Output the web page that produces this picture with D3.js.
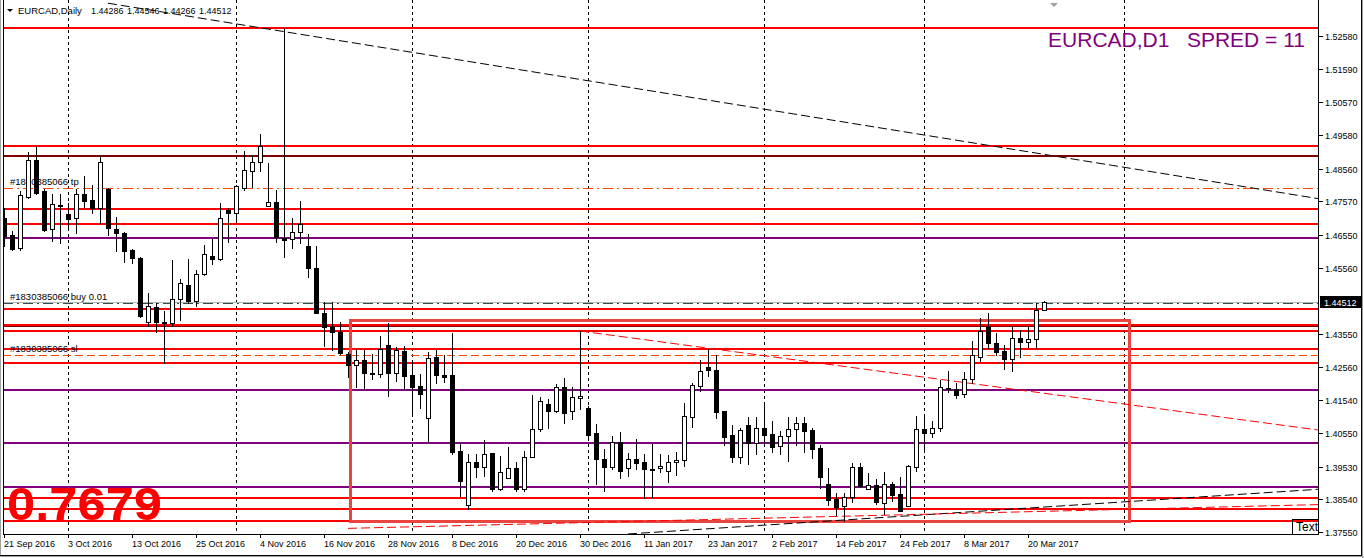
<!DOCTYPE html>
<html>
<head>
<meta charset="utf-8">
<script src="https://cdn.jsdelivr.net/npm/d3@7"></script>
<style>
  body { margin: 0; background: #fff; }
  svg { display: block; font-family: "Liberation Sans", Arial, sans-serif; }
</style>
</head>
<body>
<div id="chart"></div>
<script>
// # DATA
// # ------------------------------
// # ------------------------------
var candle_open = [1.47065,1.46549,1.46156,1.47701,1.48822,1.47883,1.46731,1.47458,1.47186,1.47065,
  1.47792,1.47610,1.47368,1.47943,1.46731,1.46610,1.46095,1.45853,1.43913,1.44368,
  1.43913,1.43883,1.44610,1.45034,1.44549,1.45368,1.45913,1.45822,1.47307,1.47216,
  1.47974,1.48489,1.48761,1.47428,1.47549,1.46458,1.46428,1.46640,1.46216,1.45550,
  1.44186,1.43762,1.43610,1.42944,1.42610,1.42762,1.42368,1.42338,1.43216,1.42368,
  1.43035,1.42307,1.41974,1.41005,1.42853,1.42307,1.42307,1.40005,1.38368,1.39671,
  1.39520,1.39944,1.38853,1.39186,1.39489,1.38853,1.39823,1.40671,1.41429,1.41217,
  1.41944,1.41217,1.41611,1.41308,1.40550,1.39762,1.39520,1.40277,1.39489,1.39762,
  1.39671,1.39459,1.39489,1.39398,1.39671,1.39732,1.41035,1.41974,1.42550,1.42459,
  1.41217,1.40489,1.39823,1.40792,1.40247,1.40702,1.40520,1.40156,1.40459,1.40671,
  1.40853,1.40641,1.40096,1.39005,1.38550,1.38338,1.38611,1.39520,1.38853,1.38974,
  1.38429,1.39005,1.38702,1.38338,1.39520,1.40671,1.40550,1.40702,1.41914,1.41883,
  1.41732,1.42186,1.42853,1.43762,1.43277,1.43035,1.42792,1.43429,1.43307,1.43398,
  1.44286];
var candle_high = [1.47368,1.46671,1.47883,1.49064,1.49246,1.47943,1.47792,1.47792,1.47519,1.47943,
  1.48337,1.48064,1.48973,1.47974,1.47095,1.46640,1.46125,1.45883,1.44792,1.44489,
  1.44246,1.45792,1.45216,1.45822,1.45489,1.46246,1.46428,1.47519,1.47368,1.48064,
  1.49095,1.48973,1.49610,1.48731,1.47913,1.52822,1.47065,1.47580,1.46580,1.46216,
  1.44519,1.44519,1.43913,1.43004,1.43095,1.43065,1.42944,1.43489,1.43883,1.43156,
  1.43186,1.42732,1.42338,1.43004,1.43065,1.42913,1.43580,1.40247,1.39914,1.39914,
  1.40338,1.39944,1.39853,1.40126,1.39671,1.40005,1.41701,1.41641,1.41580,1.42035,
  1.42217,1.41944,1.43641,1.41368,1.40823,1.40065,1.40459,1.40580,1.39944,1.40368,
  1.39914,1.40217,1.39914,1.39883,1.39974,1.41459,1.42065,1.42762,1.43095,1.42913,
  1.41217,1.40792,1.40702,1.41035,1.41035,1.41398,1.40914,1.40611,1.41035,1.41035,
  1.41035,1.40702,1.40186,1.39489,1.38732,1.38732,1.39641,1.39641,1.39338,1.39156,
  1.39368,1.39065,1.39217,1.39580,1.41065,1.41096,1.40914,1.42156,1.42429,1.42065,
  1.42398,1.43338,1.44035,1.44186,1.43580,1.43216,1.43792,1.43671,1.43792,1.44489,
  1.44546];
var candle_low = [1.46216,1.46095,1.46095,1.47671,1.47792,1.46671,1.46368,1.46307,1.46792,1.46610,
  1.47398,1.47216,1.46913,1.46549,1.46065,1.45731,1.45701,1.44065,1.43792,1.43610,
  1.42671,1.43792,1.43974,1.44489,1.44398,1.45337,1.45671,1.45792,1.46337,1.46943,
  1.47913,1.48004,1.48489,1.47428,1.46337,1.45883,1.46156,1.46307,1.45277,1.44186,
  1.43186,1.43065,1.42944,1.42247,1.41944,1.41883,1.42186,1.42247,1.41671,1.42126,
  1.41883,1.41156,1.41308,1.40277,1.42065,1.42095,1.39914,1.38641,1.38247,1.39217,
  1.39247,1.38792,1.38823,1.39186,1.38792,1.38792,1.39823,1.40611,1.40702,1.41186,
  1.40853,1.40974,1.41277,1.40429,1.39005,1.38792,1.39459,1.39186,1.39247,1.39459,
  1.38580,1.38611,1.39368,1.39065,1.39277,1.39550,1.40732,1.41823,1.42277,1.41005,
  1.40186,1.39671,1.39641,1.39611,1.39914,1.40247,1.39974,1.39914,1.39702,1.40186,
  1.39974,1.39792,1.38884,1.38368,1.38065,1.37884,1.38459,1.38914,1.38853,1.38399,
  1.38096,1.38490,1.38187,1.38338,1.39398,1.40005,1.40429,1.40611,1.41792,1.41611,
  1.41641,1.42065,1.42732,1.43126,1.42913,1.42489,1.42429,1.42853,1.43156,1.43126,
  1.44266];
var candle_close = [1.46519,1.46125,1.47761,1.48822,1.47822,1.46701,1.47489,1.47428,1.47034,1.47792,
  1.47580,1.47368,1.48761,1.46762,1.46610,1.46065,1.45853,1.44095,1.44398,1.43913,
  1.43883,1.44610,1.45095,1.44549,1.45368,1.45974,1.45822,1.47065,1.47216,1.48034,
  1.48519,1.48761,1.49246,1.47549,1.46489,1.46398,1.46640,1.46883,1.45550,1.44186,
  1.43762,1.43610,1.42974,1.42610,1.42762,1.42368,1.42338,1.43095,1.42368,1.43065,
  1.42277,1.41944,1.41732,1.42823,1.42307,1.42247,1.39974,1.39096,1.39671,1.39520,
  1.39914,1.38853,1.39368,1.39489,1.38853,1.39823,1.40671,1.41520,1.41217,1.41944,
  1.41156,1.41641,1.41671,1.40489,1.39762,1.39520,1.40277,1.39398,1.39762,1.39641,
  1.39459,1.39429,1.39550,1.39671,1.39732,1.41065,1.42005,1.42429,1.42459,1.41186,
  1.40429,1.39823,1.40641,1.40247,1.40702,1.40489,1.40126,1.40459,1.40671,1.40853,
  1.40611,1.40065,1.39217,1.38520,1.38308,1.38611,1.39520,1.38944,1.38974,1.38459,
  1.39005,1.38671,1.38187,1.39550,1.40671,1.40550,1.40702,1.41944,1.41883,1.41701,
  1.42186,1.42913,1.43641,1.43277,1.43004,1.42792,1.43429,1.43307,1.43398,1.44286,
  1.44512];

var date_labels = ["21 Sep 2016","3 Oct 2016","13 Oct 2016","25 Oct 2016","4 Nov 2016",
  "16 Nov 2016","28 Nov 2016","8 Dec 2016","20 Dec 2016","30 Dec 2016","11 Jan 2017",
  "23 Jan 2017","2 Feb 2017","14 Feb 2017","24 Feb 2017","8 Mar 2017","20 Mar 2017"];
var date_label_bars = [0,8,16,24,32,40,48,56,64,72,80,88,96,104,112,120,128];
var grid_bars      = [8, 29, 51, 73, 95, 115, 140];
var price_ticks    = [1.52580,1.51590,1.50570,1.49580,1.48560,1.47570,1.46550,1.45560,
                      1.43550,1.42560,1.41540,1.40550,1.39530,1.38540,1.37550];

var red_levels     = [1.52822,1.49256,1.47338,1.46868,1.44316,1.43822,1.43649,1.43095,
                      1.42681,1.38587,1.38247,1.37883];
var maroon_levels  = [1.48953,1.43790];
var purple_levels  = [1.46468,1.41853,1.40256,1.38923];

var order_tp       = 1.47989;
var order_sl       = 1.42905;
var order_buy      = 1.44480;
var bid_price      = 1.44512;
var header_values  = ["1.44286","1.44546","1.44266","1.44512"];

var box_bars       = [43.4, 140.8];
var box_prices     = [1.43937, 1.37853];

var trend_black_top = [[13, 1.53574], [164.25, 1.47653]];
var trend_red_top   = [[72, 1.43641], [164.25, 1.40641]];
var trend_black_low = [[78, 1.37490], [164.25, 1.38844]];
var trend_red_low   = [[43, 1.37660], [164.25, 1.38380]];

// # SETUP
// # ------------------------------
// # ------------------------------
var width = 1364, height = 558;
var plot = {left: 3, right: 1318, top: 0, bottom: 534};

var x = d3.scaleLinear().domain([0, 164.25]).range([4, 1318]);
var y = d3.scaleLinear().domain([1.37550, 1.52580]).range([532, 36]);
var px = function(i) { return Math.round(x(i)) };
var py = function(p) { return Math.round(y(p)) };

var svg = d3.select("#chart").append("svg")
    .attr("width", width)
    .attr("height", height);

svg.append("rect").attr("width", width).attr("height", height).attr("fill", "#fff");

svg.append("defs").append("clipPath").attr("id", "plot_clip")
  .append("rect")
    .attr("x", plot.left + 1)
    .attr("y", plot.top)
    .attr("width", plot.right - plot.left - 1)
    .attr("height", plot.bottom - plot.top);

var g = svg.append("g").attr("clip-path", "url(#plot_clip)");

// ## grid (month starts)
// # ------------------------------
g.selectAll(".grid")
  .data(grid_bars).enter()
  .append("line")
    .attr("x1", function(d) { return px(d) + 0.5 })
    .attr("x2", function(d) { return px(d) + 0.5 })
    .attr("y1", plot.top)
    .attr("y2", plot.bottom)
    .attr("stroke", "#000")
    .attr("stroke-dasharray", "3,3")
    .attr("shape-rendering", "crispEdges");

// ## horizontal levels
// # ------------------------------
var draw_levels = function(levels, color, w) {
  g.selectAll(null)
    .data(levels).enter()
    .append("line")
      .attr("x1", plot.left)
      .attr("x2", plot.right)
      .attr("y1", function(d) { return py(d) })
      .attr("y2", function(d) { return py(d) })
      .attr("stroke", color)
      .attr("stroke-width", w)
      .attr("shape-rendering", "crispEdges");
}
draw_levels(purple_levels, "#800080", 2);
draw_levels(maroon_levels, "#800000", 2);
draw_levels(red_levels, "#ff0000", 2);

// ## order lines
// # ------------------------------
var order_line = function(price, color, dash) {
  g.append("line")
    .attr("x1", plot.left).attr("x2", plot.right)
    .attr("y1", py(price) + 0.5).attr("y2", py(price) + 0.5)
    .attr("stroke", color)
    .attr("stroke-dasharray", dash)
    .attr("shape-rendering", "crispEdges");
}
order_line(bid_price, "#b4b4b4", null);
order_line(order_buy, "#2f4f4f", "10,4,2,4");
order_line(order_tp, "#ff4500", "10,4,2,4");
order_line(order_sl, "#ff4500", "8,4");

var order_text = [["#1830385066 tp", order_tp], ["#1830385066 buy 0.01", order_buy], ["#1830385066 sl", order_sl]];
g.selectAll(".order_label")
  .data(order_text).enter()
  .append("text")
    .attr("x", 10)
    .attr("y", function(d) { return py(d[1]) - 3 })
    .style("font-size", "9.5px")
    .attr("fill", "#000")
    .text(function(d) { return d[0] });

// ## rectangle
// # ------------------------------
g.append("rect")
  .attr("x", px(box_bars[0]) - 0.5)
  .attr("y", py(box_prices[0]) - 0.5)
  .attr("width", px(box_bars[1]) - px(box_bars[0]))
  .attr("height", py(box_prices[1]) - py(box_prices[0]))
  .attr("fill", "none")
  .attr("stroke", "#e84440")
  .attr("stroke-width", 3)
  .attr("shape-rendering", "crispEdges");

// ## trend lines
// # ------------------------------
var trend = function(pts, color, dash) {
  g.append("line")
    .attr("x1", x(pts[0][0])).attr("y1", y(pts[0][1]))
    .attr("x2", x(pts[1][0])).attr("y2", y(pts[1][1]))
    .attr("stroke", color)
    .attr("stroke-width", 1)
    .attr("stroke-dasharray", dash);
}
trend(trend_black_top, "#000", "9,4");
trend(trend_red_top, "#ff0000", "9,4");
trend(trend_black_low, "#000", "9,4");
trend(trend_red_low, "#ff0000", "9,4");

// ## big red number
// # ------------------------------
g.append("text")
  .attr("x", 7)
  .attr("y", 520)
  .attr("fill", "#ff0000")
  .style("font-size", "46px")
  .style("font-weight", "bold")
  .attr("textLength", 155)
  .attr("lengthAdjust", "spacingAndGlyphs")
  .text("0.7679");

// ## candles
// # ------------------------------
var candles = d3.range(candle_open.length).map(function(i) {
  return {i: i, o: candle_open[i], h: candle_high[i], l: candle_low[i], c: candle_close[i]};
});

var cg = g.selectAll(".candle")
  .data(candles).enter()
  .append("g")
    .attr("class", "candle")
    .attr("shape-rendering", "crispEdges");

cg.append("line")
  .attr("x1", function(d) { return px(d.i) + 0.5 })
  .attr("x2", function(d) { return px(d.i) + 0.5 })
  .attr("y1", function(d) { return py(d.h) })
  .attr("y2", function(d) { return py(d.l) + 1 })
  .attr("stroke", "#000");

cg.append("rect")
  .attr("x", function(d) { return px(d.i) - 1.5 })
  .attr("width", 4)
  .attr("y", function(d) { return py(Math.max(d.o, d.c)) + 0.5 })
  .attr("height", function(d) { return Math.max(py(Math.min(d.o, d.c)) - py(Math.max(d.o, d.c)), 0) })
  .attr("fill", function(d) { return d.c >= d.o ? "#fff" : "#000" })
  .attr("stroke", "#000");

// ## top texts
// # ------------------------------
svg.append("path")
  .attr("d", "M7,9 L13,9 L10,12 Z")
  .attr("fill", "#000");

svg.append("text")
  .attr("x", 18).attr("y", 14)
  .style("font-size", "9.5px")
  .text("EURCAD,Daily");

svg.selectAll(".header_val")
  .data(header_values).enter()
  .append("text")
    .attr("x", function(d, i) { return 91 + 36 * i })
    .attr("y", 14)
    .style("font-size", "9px")
    .text(function(d) { return d });

svg.append("text")
  .attr("x", 1305).attr("y", 47)
  .attr("text-anchor", "end")
  .attr("fill", "#800080")
  .style("font-size", "21px")
  .attr("xml:space", "preserve")
  .text("EURCAD,D1   SPRED = 11");

svg.append("path")
  .attr("d", "M1050,3 L1058,3 L1054,7 Z")
  .attr("fill", "#a0a0a0");

// ## frame + axes
// # ------------------------------
var frame = svg.append("g").attr("shape-rendering", "crispEdges");
frame.append("line").attr("x1", plot.left + 0.5).attr("x2", plot.left + 0.5)
  .attr("y1", 0).attr("y2", plot.bottom).attr("stroke", "#000");
frame.append("line").attr("x1", plot.right + 0.5).attr("x2", plot.right + 0.5)
  .attr("y1", 0).attr("y2", plot.bottom).attr("stroke", "#000");
frame.append("line").attr("x1", plot.left).attr("x2", plot.right + 1)
  .attr("y1", plot.bottom + 0.5).attr("y2", plot.bottom + 0.5).attr("stroke", "#000");
frame.append("line").attr("x1", 0.5).attr("x2", 0.5)
  .attr("y1", 0).attr("y2", 556).attr("stroke", "#a0a0a0");
frame.append("line").attr("x1", 1361.5).attr("x2", 1361.5)
  .attr("y1", 0).attr("y2", 556).attr("stroke", "#000");
frame.append("line").attr("x1", 1362.5).attr("x2", 1362.5)
  .attr("y1", 0).attr("y2", 558).attr("stroke", "#a0a0a0");
frame.append("line").attr("x1", 0).attr("x2", 1362)
  .attr("y1", 555.5).attr("y2", 555.5).attr("stroke", "#000");
frame.append("line").attr("x1", 0).attr("x2", 1364)
  .attr("y1", 556.5).attr("y2", 556.5).attr("stroke", "#a0a0a0");

// "Text" label object
svg.append("text")
  .attr("x", 1296).attr("y", 531)
  .style("font-size", "12px")
  .text("Text");
frame.append("line").attr("x1", 1292.5).attr("x2", 1292.5)
  .attr("y1", 519).attr("y2", plot.bottom).attr("stroke", "#000");
frame.append("line").attr("x1", 1292).attr("x2", plot.right)
  .attr("y1", 519.5).attr("y2", 519.5).attr("stroke", "#000");

// price axis
var yaxis = svg.append("g");
yaxis.selectAll(".ptick")
  .data(price_ticks).enter()
  .append("line")
    .attr("x1", plot.right + 1).attr("x2", plot.right + 5)
    .attr("y1", function(d) { return py(d) + 0.5 })
    .attr("y2", function(d) { return py(d) + 0.5 })
    .attr("stroke", "#000")
    .attr("shape-rendering", "crispEdges");
yaxis.selectAll(".plabel")
  .data(price_ticks).enter()
  .append("text")
    .attr("x", 1325)
    .attr("y", function(d) { return py(d) + 3.5 })
    .style("font-size", "9px")
    .text(function(d) { return d3.format(".5f")(d) });

yaxis.append("rect")
  .attr("x", 1320).attr("y", py(bid_price) - 6)
  .attr("width", 41).attr("height", 12)
  .attr("fill", "#000");
yaxis.append("text")
  .attr("x", 1324).attr("y", py(bid_price) + 3.5)
  .attr("fill", "#fff")
  .style("font-size", "9px")
  .text(d3.format(".5f")(bid_price));

// date axis
var xaxis = svg.append("g");
xaxis.selectAll(".dtick")
  .data(date_label_bars).enter()
  .append("line")
    .attr("x1", function(d) { return px(d) + 0.5 })
    .attr("x2", function(d) { return px(d) + 0.5 })
    .attr("y1", plot.bottom).attr("y2", plot.bottom + 4)
    .attr("stroke", "#000")
    .attr("shape-rendering", "crispEdges");
xaxis.selectAll(".dlabel")
  .data(date_label_bars).enter()
  .append("text")
    .attr("x", function(d) { return px(d) })
    .attr("y", 547)
    .style("font-size", "9px")
    .text(function(d, i) { return date_labels[i] });
</script>
</body>
</html>
